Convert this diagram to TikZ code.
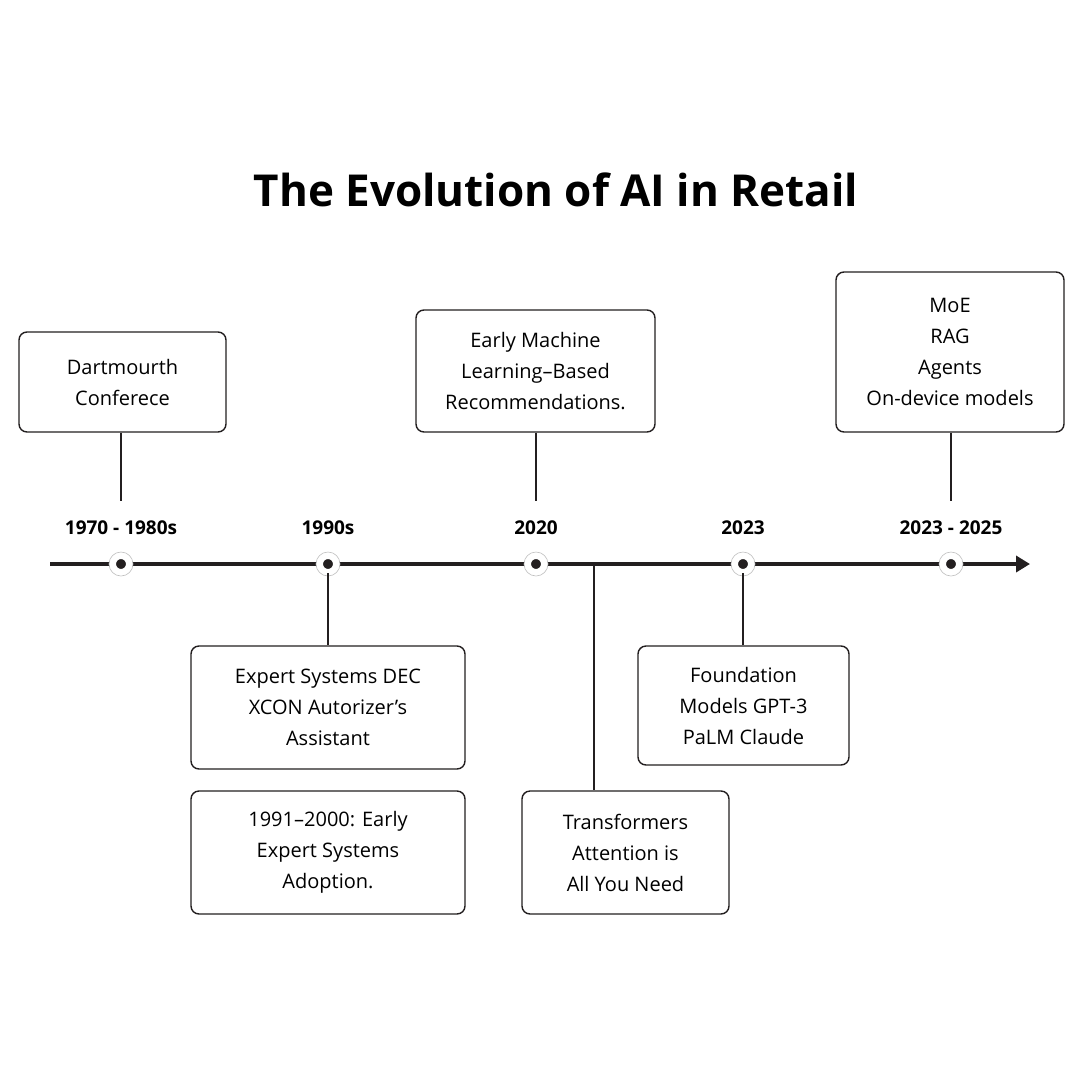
\documentclass[tikz,border=0pt]{standalone}
\usepackage{fontspec}
\setmainfont{Open Sans}
\usetikzlibrary{arrows.meta}
\definecolor{ink}{HTML}{231F20}
\tikzstyle{event} = [draw=ink, line width=1.4pt, rounded corners=8pt, align=center, inner sep=0pt, font=\fontsize{20}{31}\selectfont, text=black]
\tikzstyle{year} = [font=\fontsize{19}{22}\bfseries\selectfont, text=black]
\tikzstyle{stem} = [draw=ink, line width=1.4pt]
\tikzstyle{dot} = [circle, fill=ink, minimum size=14pt, inner sep=0pt, draw=white, line width=4pt]

\begin{document}
\begin{tikzpicture}[x=1pt, y=-1pt]
\useasboundingbox (0,0) rectangle (1080,1080);
\fill[white] (0,0) rectangle (1080,1080);

\node (title) at (556,190) {\fontsize{44}{50}\bfseries\selectfont The Evolution of AI in Retail};

% timeline
\coordinate (start) at (50,564);
\coordinate (end) at (1030,564);
\draw [ink, line width=4pt, -{Triangle[length=14pt,width=16pt]}] (start) -- (end);

% dots and years
\foreach \n/\x/\t in {a/121/1970 - 1980s, b/328/1990s, c/536/2020, d/743/2023, e/951/2023 - 2025}{
  \draw[gray!50, line width=0.6pt, fill=white] (\x,564) circle (12pt);
  \node (dot\n) [dot] at (\x,564) {};
  \node (yr\n) [year] at (\x,528) {\t};
}
\coordinate (tick) at (594,564);

% boxes
\node (dartmouth) [event, minimum width=207pt, minimum height=100pt] at (122.5,382) {Dartmourth\\Conferece};
\node (expert) [event, minimum width=274pt, minimum height=123pt] at (328,707.5) {Expert Systems DEC\\XCON Autorizer’s\\Assistant};
\node (adoption) [event, minimum width=274pt, minimum height=123pt] at (328,852.5) {1991–2000: Early\\Expert Systems\\Adoption.};
\node (mlrec) [event, minimum width=239pt, minimum height=122pt] at (535.5,371) {Early Machine\\Learning–Based\\Recommendations.};
\node (transf) [event, minimum width=207pt, minimum height=123pt] at (625.5,852.5) {Transformers\\Attention is\\All You Need};
\node (found) [event, minimum width=211pt, minimum height=119pt] at (743.5,705.5) {Foundation\\Models GPT-3\\PaLM Claude};
\node (moe) [event, minimum width=228pt, minimum height=160pt] at (950,352) {MoE\\RAG\\Agents\\On-device models};

% stems
\draw [stem] (dartmouth.south -| dota) -- ++(0,68);
\draw [stem] (dotb) -- (expert.north -| dotb);
\draw [stem] (mlrec.south -| dotc) -- ++(0,68);
\draw [stem] (tick) -- (transf.north -| tick);
\draw [stem] (dotd) -- (found.north -| dotd);
\draw [stem] (moe.south -| dote) -- ++(0,68);

\end{tikzpicture}
\end{document}
